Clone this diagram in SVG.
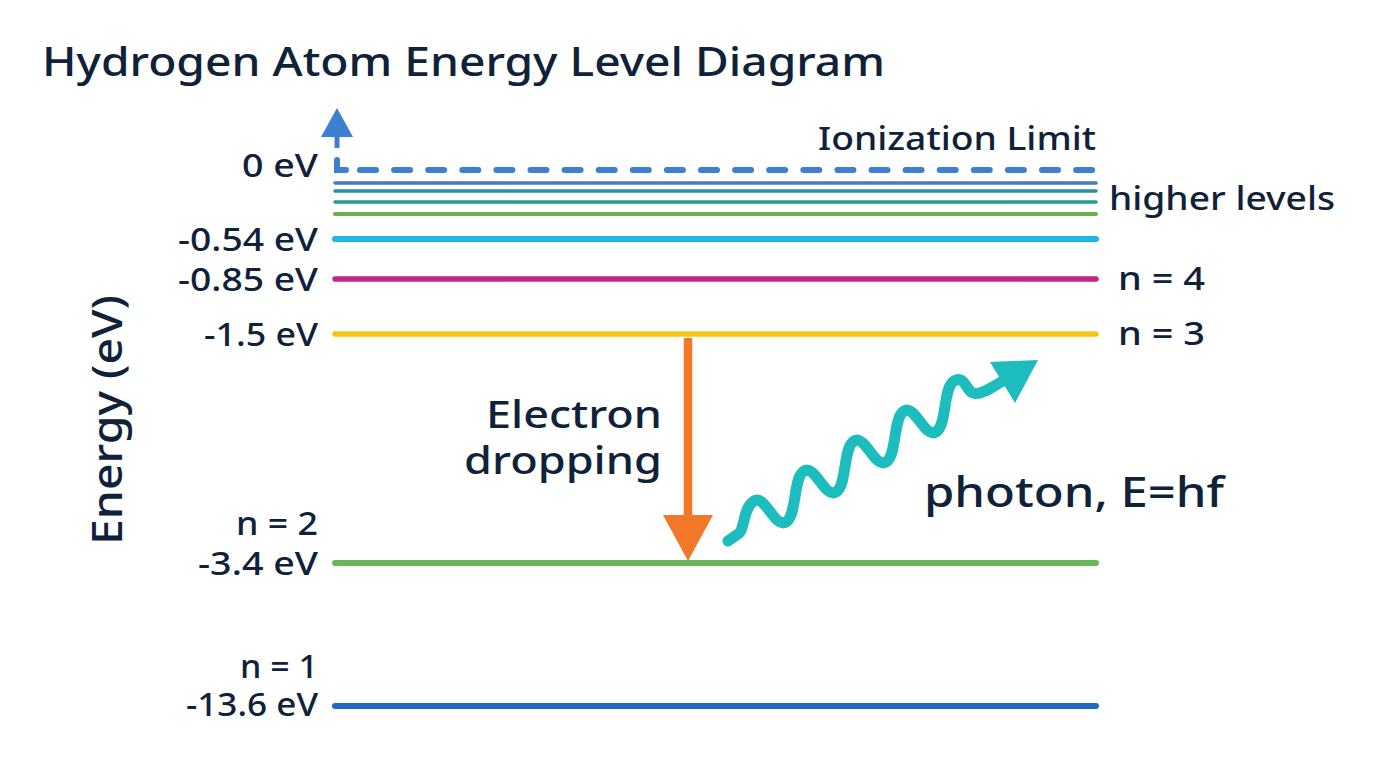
<svg xmlns="http://www.w3.org/2000/svg" width="1376" height="768" viewBox="0 0 1376 768">
<style>
text{font-family:"Noto Sans","Liberation Sans",sans-serif;fill:#10223a;font-weight:500}
.lbl{font-size:32px;text-anchor:end}
.rl{font-size:32px}
.lvl{fill:none;stroke-linecap:round}
</style>
<rect width="1376" height="768" fill="#ffffff"/>
<text id="title" x="42" y="76" style="font-size:40px" textLength="843" lengthAdjust="spacingAndGlyphs">Hydrogen Atom Energy Level Diagram</text>
<text id="axis" transform="translate(122,420) rotate(-90)" style="font-size:42px;text-anchor:middle" textLength="250" lengthAdjust="spacingAndGlyphs">Energy (eV)</text>

<g id="ionization">
<path class="lvl" d="M337,160 L337,170 L346,170" stroke="#3f7fcf" stroke-width="6"/>
<line class="lvl" x1="360" y1="170" x2="1095" y2="170" stroke="#3f7fcf" stroke-width="6" stroke-dasharray="16 18.1"/>
<line x1="337" y1="148" x2="337" y2="132" stroke="#3f7fcf" stroke-width="5"/>
<polygon points="337,108 353,137 321,137" fill="#3f7fcf"/>
<text class="lbl" x="1096" y="150" textLength="278" lengthAdjust="spacingAndGlyphs">Ionization Limit</text>
<text class="lbl" x="318" y="177" textLength="76" lengthAdjust="spacingAndGlyphs">0 eV</text>
</g>
<g id="higher">
<line class="lvl" x1="335" y1="183" x2="1096" y2="183" stroke="#4a78c0" stroke-width="3.5"/>
<line class="lvl" x1="335" y1="191" x2="1096" y2="191" stroke="#2a8ea6" stroke-width="3.5"/>
<line class="lvl" x1="335" y1="202" x2="1096" y2="202" stroke="#1c9e88" stroke-width="3.5"/>
<line class="lvl" x1="335" y1="214" x2="1096" y2="214" stroke="#69b14f" stroke-width="4"/>
<text class="rl" x="1109" y="210" textLength="226" lengthAdjust="spacingAndGlyphs">higher levels</text>
</g>
<g id="n5">
<line class="lvl" x1="335" y1="239" x2="1096" y2="239" stroke="#22b5e3" stroke-width="6"/>
<text class="lbl" x="318" y="251" textLength="140" lengthAdjust="spacingAndGlyphs">-0.54 eV</text>
</g>
<g id="n4">
<line class="lvl" x1="335" y1="279" x2="1096" y2="279" stroke="#c0258a" stroke-width="5.5"/>
<text class="lbl" x="318" y="291" textLength="140" lengthAdjust="spacingAndGlyphs">-0.85 eV</text>
<text class="rl" x="1118" y="290" textLength="87" lengthAdjust="spacingAndGlyphs">n = 4</text>
</g>
<g id="n3">
<line class="lvl" x1="335" y1="334" x2="1096" y2="334" stroke="#f6c416" stroke-width="5.5"/>
<text class="lbl" x="318" y="346" textLength="114" lengthAdjust="spacingAndGlyphs">-1.5 eV</text>
<text class="rl" x="1118" y="345" textLength="87" lengthAdjust="spacingAndGlyphs">n = 3</text>
</g>
<g id="n2">
<line class="lvl" x1="335" y1="563" x2="1096" y2="563" stroke="#6bb85c" stroke-width="6"/>
<text class="lbl" x="318" y="535" textLength="82" lengthAdjust="spacingAndGlyphs">n = 2</text>
<text class="lbl" x="318" y="575" textLength="120" lengthAdjust="spacingAndGlyphs">-3.4 eV</text>
</g>
<g id="n1">
<line class="lvl" x1="335" y1="706" x2="1096" y2="706" stroke="#2368c4" stroke-width="6"/>
<text class="lbl" x="318" y="678" textLength="78" lengthAdjust="spacingAndGlyphs">n = 1</text>
<text class="lbl" x="318" y="716" textLength="132" lengthAdjust="spacingAndGlyphs">-13.6 eV</text>
</g>

<g id="connectors">
<line x1="688" y1="338" x2="688" y2="520" stroke="#f07828" stroke-width="8.5"/>
<polygon points="663,515 713,515 688,561" fill="#f07828"/>
<path d="M728,541 L738,534 C745,530 742.75,507.75 754,501 C765.25,494.25 774.75,528.75 786,522 C797.25,515.25 792.75,477.75 804,471 C815.25,464.25 824.75,498.75 836,492 C847.25,485.25 842.75,447.75 854,441 C865.25,434.25 874.75,468.75 886,462 C897.25,455.25 892.75,417.75 904,411 C915.25,404.25 924.75,438.75 936,432 C947.25,425.25 942.75,387.75 954,381 C965.25,374.25 966,393 975,393.5 C983,394 991,387.5 1002,381.5" fill="none" stroke="#1dbcbe" stroke-width="11" stroke-linecap="round" stroke-linejoin="round"/>
<polygon points="1038,360 990,362 1015,403" fill="#1dbcbe"/>
</g>
<g id="labels">
<text x="662" y="428" style="font-size:38px;text-anchor:end" textLength="176" lengthAdjust="spacingAndGlyphs">Electron</text>
<text x="662" y="474" style="font-size:38px;text-anchor:end" textLength="198" lengthAdjust="spacingAndGlyphs">dropping</text>
<text x="924" y="507" style="font-size:42px" textLength="300" lengthAdjust="spacingAndGlyphs">photon, E=hf</text>
</g>
</svg>
